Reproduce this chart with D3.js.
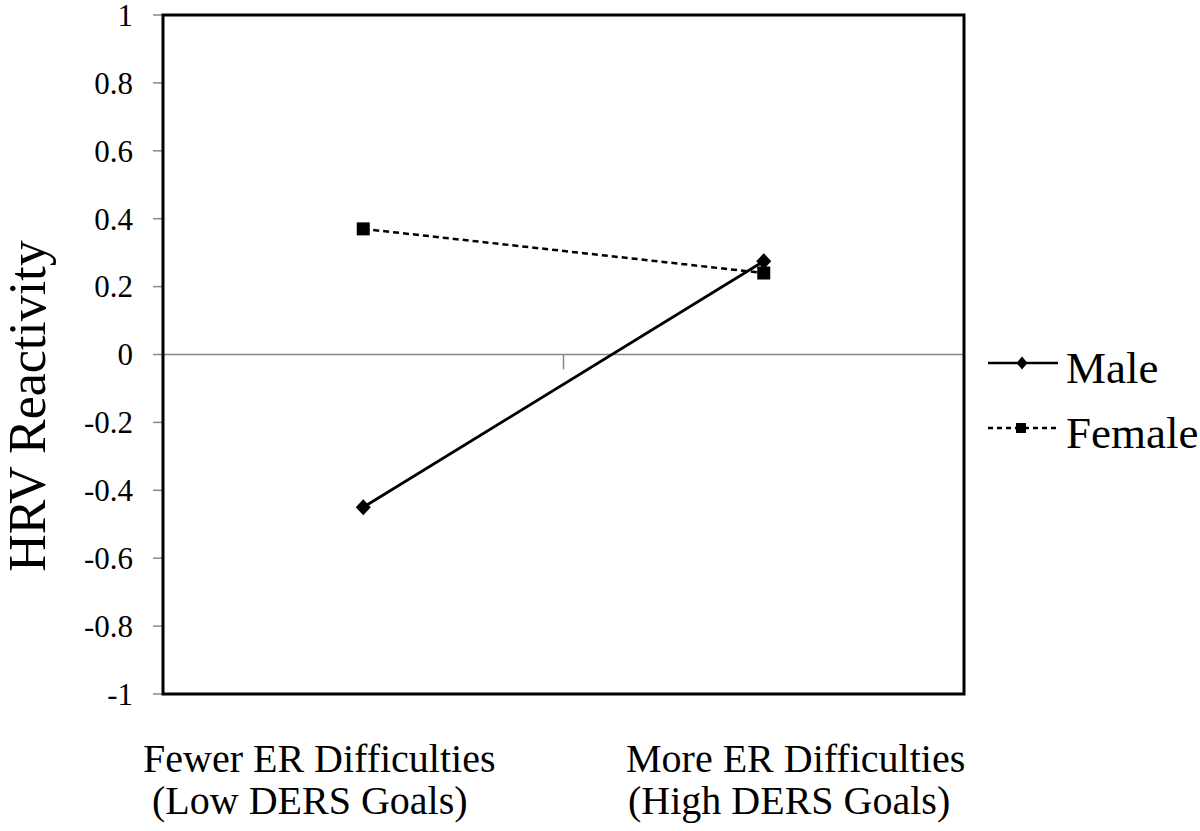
<!DOCTYPE html>
<html><head><meta charset="utf-8">
<script src="https://cdn.jsdelivr.net/npm/d3@7"></script>
<style>body{margin:0;background:#fff}svg{display:block}text{font-family:"Liberation Serif","Times New Roman",serif;fill:#000}</style>
</head><body><svg id="c" width="1200" height="831"></svg>
<script>
const categories = [["Fewer ER Difficulties","(Low DERS Goals)"],["More ER Difficulties","(High DERS Goals)"]];
const seriesNames = ["Male","Female"];
const maleValues = [-0.45, 0.275];
const femaleValues = [0.37, 0.24];
const yTicks = [1,0.8,0.6,0.4,0.2,0,-0.2,-0.4,-0.6,-0.8,-1];
const yLabel = "HRV Reactivity";

const svg = d3.select("#c");
const L=163, R=964, T=15, B=694;
const x = d3.scaleBand().domain([0,1]).range([L,R]);
const y = d3.scaleLinear().domain([-1,1]).range([B,T]);

// y axis ticks
const yAxis = svg.append("g");
yAxis.selectAll("line").data(yTicks).join("line")
  .attr("x1",L-10).attr("x2",L).attr("y1",d=>y(d)).attr("y2",d=>y(d))
  .attr("stroke","#888").attr("stroke-width",1.5);
yAxis.selectAll("text").data(yTicks).join("text")
  .attr("x",133).attr("y",d=>y(d)).attr("dy","0.35em").attr("text-anchor","end")
  .attr("font-size",31).text(d=>d);

// zero line
svg.append("line").attr("x1",L).attr("x2",R).attr("y1",y(0)).attr("y2",y(0))
  .attr("stroke","#888").attr("stroke-width",1.5);
svg.append("line").attr("x1",x(1)).attr("x2",x(1)).attr("y1",y(0)).attr("y2",y(0)+15)
  .attr("stroke","#888").attr("stroke-width",1.5);

// frame
svg.append("rect").attr("x",L).attr("y",T).attr("width",R-L).attr("height",B-T)
  .attr("fill","none").attr("stroke","#000").attr("stroke-width",3);

// x labels (left-aligned lines as in the reference)
const labelX = [[143,152],[626,628]];
categories.forEach((c,i)=>{
  svg.append("text").attr("x",labelX[i][0]).attr("y",772).attr("font-size",40).text(c[0]);
  svg.append("text").attr("x",labelX[i][1]).attr("y",814).attr("font-size",40).text(c[1]);
});

// y label
svg.append("text").attr("transform",`translate(45,406) rotate(-90)`)
  .attr("text-anchor","middle").attr("font-size",52).text(yLabel);

const cx = i=>x(i)+x.bandwidth()/2;
const line = d3.line().x((d,i)=>cx(i)).y(d=>y(d));

const diamondPath = (w,h)=>`M0,${-h/2}L${w/2},0L0,${h/2}L${-w/2},0Z`;
const squarePath = s=>`M${-s/2},${-s/2}h${s}v${s}h${-s}Z`;

// female
svg.append("path").attr("d",line(femaleValues)).attr("fill","none")
  .attr("stroke","#000").attr("stroke-width",2.5).attr("stroke-dasharray","6,4");
// male
svg.append("path").attr("d",line(maleValues)).attr("fill","none")
  .attr("stroke","#000").attr("stroke-width",2.8);
svg.selectAll(".fm").data(femaleValues).join("path").attr("class","fm")
  .attr("d",squarePath(13)).attr("transform",(d,i)=>`translate(${cx(i)},${y(d)})`).attr("fill","#000");
svg.selectAll(".mm").data(maleValues).join("path").attr("class","mm")
  .attr("d",diamondPath(15,16)).attr("transform",(d,i)=>`translate(${cx(i)},${y(d)})`).attr("fill","#000");

// legend
const lg = [{name:seriesNames[0],y:363,dash:null,sym:diamondPath(11,13),sx:1022},{name:seriesNames[1],y:428,dash:"5,4",sym:squarePath(10),sx:1021}];
lg.forEach(l=>{
  svg.append("line").attr("x1",988).attr("x2",1058).attr("y1",l.y).attr("y2",l.y)
    .attr("stroke","#000").attr("stroke-width",2.5).attr("stroke-dasharray",l.dash);
  svg.append("path").attr("d",l.sym).attr("transform",`translate(${l.sx},${l.y})`).attr("fill","#000");
  svg.append("text").attr("x",1066).attr("y",l.y+20).attr("font-size",45).text(l.name);
});
</script></body></html>
